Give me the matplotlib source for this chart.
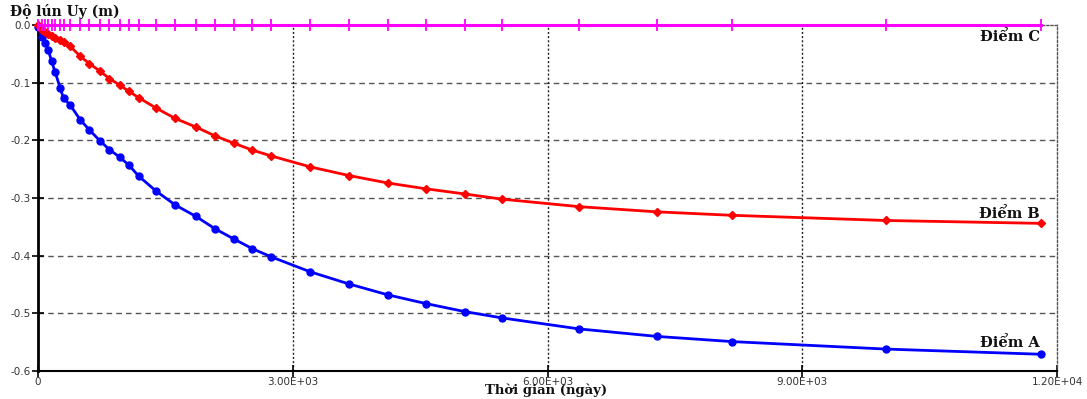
import numpy as np
import matplotlib
matplotlib.use("Agg")
import matplotlib.pyplot as plt

# time steps (days), shared by all three points
time_days = [0, 45, 85, 120, 160, 200, 260, 300, 380, 495, 605, 730, 840, 960,
             1070, 1185, 1390, 1615, 1860, 2080, 2305, 2525, 2745, 3205, 3660,
             4120, 4565, 5025, 5465, 6370, 7285, 8170, 9985, 11815]

# settlement Uy (m)
uy_A = [-0.004, -0.021, -0.031, -0.043, -0.063, -0.081, -0.109, -0.127, -0.139,
        -0.164, -0.182, -0.201, -0.216, -0.229, -0.243, -0.262, -0.288, -0.312,
        -0.332, -0.353, -0.371, -0.388, -0.402, -0.428, -0.449, -0.468, -0.483,
        -0.497, -0.508, -0.527, -0.540, -0.549, -0.562, -0.571]
uy_B = [0.0, -0.008, -0.012, -0.016, -0.019, -0.022, -0.026, -0.030, -0.037,
        -0.054, -0.067, -0.080, -0.093, -0.104, -0.115, -0.126, -0.144, -0.162,
        -0.177, -0.192, -0.205, -0.217, -0.227, -0.246, -0.261, -0.274, -0.284,
        -0.293, -0.302, -0.315, -0.324, -0.330, -0.339, -0.344]
uy_C = [0.0] * len(time_days)

x_ticks = [0, 3000, 6000, 9000, 12000]
x_tick_labels = ["0", "3.00E+03", "6.00E+03", "9.00E+03", "1.20E+04"]
y_ticks = [0.0, -0.1, -0.2, -0.3, -0.4, -0.5, -0.6]
y_tick_labels = ["0.0", "-0.1", "-0.2", "-0.3", "-0.4", "-0.5", "-0.6"]

fig = plt.figure(figsize=(10.87, 3.99), dpi=100)
ax = fig.add_axes([0.035, 0.0702, 0.9375, 0.8671])

ax.set_xlim(0, 12000)
ax.set_ylim(-0.6, 0.0)

# grid
for yv in y_ticks[1:-1]:
    ax.axhline(yv, color="#555555", lw=1, ls=(0, (4, 3)), zorder=1)
for xv in x_ticks[1:-1]:
    ax.axvline(xv, color="#222222", lw=1, ls=(0, (1.5, 1.5)), zorder=1)

ax.plot(time_days, uy_A, color="#0000ff", lw=2, marker="o", ms=5,
        clip_on=False, zorder=4)
ax.plot(time_days, uy_B, color="#ff0000", lw=2, marker="D", ms=4,
        clip_on=False, zorder=4)
ax.plot(time_days, uy_C, color="#ff00ff", lw=2.2, marker="|", ms=8, mew=1.3,
        clip_on=False, zorder=5)

# frame
ax.spines["left"].set_linewidth(2)
ax.spines["bottom"].set_linewidth(1.5)
for s in ("top", "right"):
    ax.spines[s].set_color("#555555")
    ax.spines[s].set_linewidth(1)
    ax.spines[s].set_linestyle((0, (1.5, 1.5)))

ax.set_xticks(x_ticks)
ax.set_xticklabels(x_tick_labels)
ax.set_yticks(y_ticks)
ax.set_yticklabels(y_tick_labels)
ax.tick_params(direction="inout", length=8, width=1.2, color="black",
               labelsize=7.5, labelcolor="#333333", pad=1)
ax.tick_params(axis="x", pad=0)

serif = dict(family="DejaVu Serif", fontweight="bold", color="#111111")
fig.text(0.009, 0.972, "Độ lún Uy (m)", fontsize=10, va="center", ha="left", **serif)
fig.text(0.502, 0.021, "Thời gian (ngày)", fontsize=9.5, va="center", ha="center", **serif)

ax.text(11800, -0.021, "Điểm C", fontsize=10.5, ha="right", va="center", **serif)
ax.text(11800, -0.327, "Điểm B", fontsize=10.5, ha="right", va="center", **serif)
ax.text(11800, -0.552, "Điểm A", fontsize=10.5, ha="right", va="center", **serif)

# heading sits mostly above the top edge
fig.text(0.522, 1.03, "giá trị độ lún theo ngày", fontsize=15, ha="center",
         va="center", family="DejaVu Serif", color="#222222")

fig.savefig("out.png", dpi=100)
